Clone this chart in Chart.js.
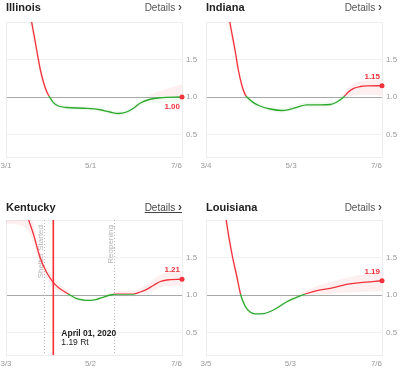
<!DOCTYPE html>
<html>
<head>
<meta charset="utf-8">
<script src="https://cdn.jsdelivr.net/npm/chart.js@4"></script>
<style>
  body { margin: 0; background: #fff; font-family: Arial, "Liberation Sans", sans-serif; }
  #wrap { position: relative; width: 400px; height: 374px; overflow: hidden; }
  .panel { position: absolute; width: 200px; height: 176px; }
  .panel canvas { position: absolute; left: 0; top: 0; }
  .title { position: absolute; left: 6px; top: 0; font-size: 11px; line-height: 14px; font-weight: bold; color: #222; }
  .details { position: absolute; right: 18px; top: 0; font-size: 10px; line-height: 14px; color: #555; }
  .details b { font-size: 12px; }
  .row2 .title, .row2 .details { top: 2px; }
  .hover { text-decoration: underline; color: #444; }
</style>
</head>
<body>
<div id="wrap">
  <div class="panel" style="left:0;top:0"><canvas id="c1" width="200" height="176"></canvas>
    <div class="title">Illinois</div><div class="details">Details <b>›</b></div></div>
  <div class="panel" style="left:200px;top:0"><canvas id="c2" width="200" height="176"></canvas>
    <div class="title">Indiana</div><div class="details">Details <b>›</b></div></div>
  <div class="panel row2" style="left:0;top:198px"><canvas id="c3" width="200" height="176"></canvas>
    <div class="title">Kentucky</div><div class="details hover">Details <b>›</b></div></div>
  <div class="panel row2" style="left:200px;top:198px"><canvas id="c4" width="200" height="176"></canvas>
    <div class="title">Louisiana</div><div class="details">Details <b>›</b></div></div>
</div>
<script>
// valores (días desde la primera fecha de cada panel)
const yTicks = [0.5, 1.0, 1.5];

const illinoisTickDays = [0, 61, 127];
const illinoisTickLabels = ['3/1', '5/1', '7/6'];
const illinoisDays = [0, 12, 18.6, 22.2, 24.6, 27, 29.4, 31.8, 34.2, 37.8, 43.9, 55.9, 68, 75, 81, 87, 92, 97, 104, 111, 127];
const illinoisRt = [4.0, 2.6, 1.99, 1.62, 1.38, 1.2, 1.07, 0.99, 0.925, 0.88, 0.86, 0.85, 0.83, 0.8, 0.78, 0.8, 0.85, 0.92, 0.97, 0.99, 1.0];
const illinoisLo = [3.6, 2.4, 1.85, 1.52, 1.3, 1.14, 1.02, 0.95, 0.89, 0.85, 0.83, 0.82, 0.8, 0.77, 0.75, 0.77, 0.82, 0.88, 0.92, 0.92, 0.9];
const illinoisHi = [4.4, 2.8, 2.1, 1.72, 1.46, 1.26, 1.12, 1.03, 0.96, 0.91, 0.89, 0.88, 0.86, 0.83, 0.81, 0.83, 0.88, 0.96, 1.03, 1.08, 1.17];

const indianaTickDays = [0, 60, 124];
const indianaTickLabels = ['3/4', '5/3', '7/6'];
const indianaDays = [0, 12, 16.9, 20.5, 22.8, 25.2, 27.5, 29.9, 33.4, 38.1, 45.2, 53.4, 59.3, 64, 71, 80.5, 87.5, 92.2, 97, 100.5, 104, 108.7, 113.4, 124];
const indianaRt = [4.0, 2.6, 1.99, 1.62, 1.36, 1.16, 1.035, 0.98, 0.925, 0.88, 0.84, 0.82, 0.837, 0.863, 0.894, 0.894, 0.9, 0.934, 1.0, 1.07, 1.115, 1.14, 1.148, 1.15];
const indianaLo = [3.6, 2.4, 1.85, 1.52, 1.28, 1.1, 0.99, 0.94, 0.89, 0.85, 0.81, 0.79, 0.81, 0.83, 0.86, 0.86, 0.87, 0.9, 0.95, 1.0, 1.02, 1.03, 1.03, 1.02];
const indianaHi = [4.4, 2.8, 2.1, 1.72, 1.44, 1.22, 1.08, 1.02, 0.96, 0.91, 0.87, 0.85, 0.87, 0.9, 0.93, 0.93, 0.93, 0.97, 1.05, 1.13, 1.18, 1.21, 1.22, 1.24];

const kentuckyTickDays = [0, 60, 125];
const kentuckyTickLabels = ['3/3', '5/2', '7/6'];
const kentuckyDays = [0, 10, 15.9, 19.5, 24.2, 28.9, 33.7, 37.2, 40.8, 45.5, 50.3, 55, 59.8, 64.5, 69.3, 74, 78.7, 90.6, 95.4, 100, 104.8, 109.6, 114.3, 125];
const kentuckyRt = [3.0, 2.35, 2.01, 1.81, 1.5, 1.3, 1.165, 1.1, 1.054, 1.0, 0.951, 0.933, 0.929, 0.942, 0.973, 1.0, 1.013, 1.013, 1.04, 1.076, 1.13, 1.18, 1.2, 1.21];
const kentuckyLo = [1.95, 1.93, 1.85, 1.68, 1.4, 1.22, 1.1, 1.05, 1.01, 0.96, 0.92, 0.91, 0.91, 0.92, 0.95, 0.97, 0.98, 0.98, 1.0, 1.02, 1.06, 1.1, 1.12, 1.12];
const kentuckyHi = [3.5, 2.75, 2.2, 1.95, 1.6, 1.38, 1.23, 1.15, 1.1, 1.04, 0.98, 0.955, 0.95, 0.965, 1.0, 1.03, 1.05, 1.06, 1.09, 1.14, 1.21, 1.27, 1.3, 1.32];
const kentuckyEventDays = [27, 77];
const kentuckyEventLabels = ['Shelter Started', 'Reopening'];
const kentuckyHoverDay = 33.6;
const kentuckyHoverText = ['April 01, 2020', '1.19 Rt'];

const louisianaTickDays = [0, 59, 123];
const louisianaTickLabels = ['3/5', '5/3', '7/6'];
const louisianaDays = [0, 10, 14.5, 18, 21.5, 24.3, 27.3, 30.8, 34.3, 40.1, 47.1, 56.5, 65.8, 70.5, 77.5, 89.2, 96.2, 107.8, 123];
const louisianaRt = [4.0, 2.6, 1.95, 1.56, 1.25, 1.0, 0.854, 0.774, 0.748, 0.752, 0.8, 0.91, 0.987, 1.02, 1.058, 1.097, 1.133, 1.164, 1.19];
const louisianaLo = [3.6, 2.4, 1.82, 1.47, 1.18, 0.95, 0.82, 0.75, 0.73, 0.73, 0.78, 0.88, 0.96, 0.98, 1.0, 1.02, 1.03, 1.04, 1.05];
const louisianaHi = [4.4, 2.8, 2.08, 1.65, 1.32, 1.05, 0.89, 0.8, 0.77, 0.77, 0.82, 0.94, 1.02, 1.06, 1.12, 1.18, 1.22, 1.27, 1.32];

const RED = '#f0323c';
const GREEN = '#2ca82c';

// color partido en Rt = 1 (rojo arriba, verde abajo)
function splitColor(chart, above, below) {
  const area = chart.chartArea;
  if (!area) return above;
  const y1 = chart.scales.y.getPixelForValue(1) - 1;
  let f = (y1 - area.top) / (area.bottom - area.top);
  f = Math.min(1, Math.max(0, f));
  const g = chart.ctx.createLinearGradient(0, area.top, 0, area.bottom);
  g.addColorStop(0, above);
  g.addColorStop(f, above);
  g.addColorStop(f, below);
  g.addColorStop(1, below);
  return g;
}

function toPoints(days, vals) {
  return days.map((d, i) => ({ x: d, y: vals[i] }));
}

function makeChart(id, days, rt, lo, hi, tickDays, tickLabels, extra) {
  const n = rt.length;
  const plugins = [{
    id: 'frame',
    beforeDatasetsDraw(chart) {
      const { ctx, chartArea: a } = chart;
      ctx.save();
      ctx.strokeStyle = '#eee';
      ctx.lineWidth = 1;
      ctx.strokeRect(Math.round(a.left) + 0.5, Math.round(a.top) + 0.5, a.right - a.left, a.bottom - a.top);
      ctx.restore();
    },
    afterDraw(chart) {
      const { ctx, chartArea: a } = chart;
      const xs = chart.scales.x, ys = chart.scales.y;
      ctx.save();
      // etiquetas del eje x
      ctx.font = '8px Arial, "Liberation Sans"';
      ctx.fillStyle = '#999';
      ctx.textBaseline = 'middle';
      tickDays.forEach((d, i) => {
        ctx.textAlign = i === tickDays.length - 1 ? 'right' : 'center';
        ctx.fillText(tickLabels[i], xs.getPixelForValue(d), a.bottom + 9);
      });
      // valor final
      const last = rt[n - 1];
      const px = xs.getPixelForValue(days[n - 1]);
      const py = ys.getPixelForValue(last);
      ctx.font = 'bold 8px Arial, "Liberation Sans"';
      ctx.fillStyle = RED;
      ctx.textAlign = 'right';
      ctx.fillText(last.toFixed(2), px - 2, last > 1 ? py - 9 : py + 10);
      ctx.restore();
    }
  }];
  if (extra) plugins.push(extra);

  return new Chart(document.getElementById(id), {
    type: 'line',
    data: {
      datasets: [
        {
          data: toPoints(days, rt),
          borderColor: ctx => splitColor(ctx.chart, RED, GREEN),
          borderWidth: 1.3,
          pointRadius: ctx => (ctx.dataIndex === n - 1 ? 2.5 : 0),
          pointBackgroundColor: RED,
          pointBorderWidth: 0,
          fill: false,
          cubicInterpolationMode: 'monotone',
          clip: { left: 0, top: 0, right: 4, bottom: 0 }
        },
        {
          data: toPoints(days, hi),
          borderWidth: 0,
          pointRadius: 0,
          fill: '+1',
          backgroundColor: ctx => splitColor(ctx.chart, 'rgba(240,60,60,0.08)', 'rgba(60,180,60,0.07)'),
          cubicInterpolationMode: 'monotone',
          clip: 0
        },
        {
          data: toPoints(days, lo),
          borderWidth: 0,
          pointRadius: 0,
          fill: false,
          cubicInterpolationMode: 'monotone',
          clip: 0
        }
      ]
    },
    options: {
      responsive: false,
      animation: false,
      events: [],
      layout: { padding: { left: 6, top: 22, right: 0, bottom: 0 } },
      plugins: { legend: { display: false }, tooltip: { enabled: false } },
      scales: {
        x: {
          type: 'linear',
          min: tickDays[0],
          max: tickDays[tickDays.length - 1],
          grid: { display: false },
          border: { color: '#eee' },
          ticks: { display: false },
          afterFit(s) { s.height = 19; }
        },
        y: {
          position: 'right',
          min: 0.2,
          max: 2.0,
          afterBuildTicks(s) { s.ticks = yTicks.map(v => ({ value: v })); },
          grid: {
            color: c => (c.tick && c.tick.value === 1 ? '#a8a8a8' : '#f0f0f0'),
            drawTicks: false
          },
          border: { color: '#eee' },
          ticks: {
            padding: 4,
            color: '#999',
            font: { size: 8, family: 'Arial, "Liberation Sans"' },
            callback: v => Number(v).toFixed(1)
          },
          afterFit(s) { s.width = 18; }
        }
      }
    },
    plugins
  });
}

// eventos de Kentucky: líneas punteadas, textos y la línea roja de selección
const kentuckyEvents = {
  id: 'kyEvents',
  beforeDatasetsDraw(chart) {
    const { ctx, chartArea: a } = chart;
    const xs = chart.scales.x;
    ctx.save();
    kentuckyEventDays.forEach((d, i) => {
      const x = Math.round(xs.getPixelForValue(d)) + 0.5;
      ctx.strokeStyle = '#bbb';
      ctx.lineWidth = 1;
      ctx.setLineDash([1, 2]);
      ctx.beginPath();
      ctx.moveTo(x, a.top);
      ctx.lineTo(x, a.bottom);
      ctx.stroke();
      ctx.setLineDash([]);
      ctx.save();
      ctx.translate(x - 1.5, a.top + 5);
      ctx.rotate(-Math.PI / 2);
      ctx.font = '8px Arial, "Liberation Sans"';
      ctx.fillStyle = '#b5b5b5';
      ctx.textAlign = 'right';
      ctx.textBaseline = 'alphabetic';
      ctx.fillText(kentuckyEventLabels[i], 0, 0);
      ctx.restore();
    });
    ctx.restore();
  },
  afterDatasetsDraw(chart) {
    const { ctx, chartArea: a } = chart;
    const x = chart.scales.x.getPixelForValue(kentuckyHoverDay);
    ctx.save();
    ctx.fillStyle = 'rgb(245,45,55)';
    ctx.fillRect(x - 0.8, a.top, 1.6, a.bottom - a.top);
    ctx.fillStyle = '#222';
    ctx.textAlign = 'left';
    ctx.textBaseline = 'middle';
    ctx.font = 'bold 8.5px Arial, "Liberation Sans"';
    ctx.fillText(kentuckyHoverText[0], x + 8, a.bottom - 21);
    ctx.font = '8.5px Arial, "Liberation Sans"';
    ctx.fillText(kentuckyHoverText[1], x + 8, a.bottom - 12);
    ctx.restore();
  }
};

makeChart('c1', illinoisDays, illinoisRt, illinoisLo, illinoisHi, illinoisTickDays, illinoisTickLabels);
makeChart('c2', indianaDays, indianaRt, indianaLo, indianaHi, indianaTickDays, indianaTickLabels);
makeChart('c3', kentuckyDays, kentuckyRt, kentuckyLo, kentuckyHi, kentuckyTickDays, kentuckyTickLabels, kentuckyEvents);
makeChart('c4', louisianaDays, louisianaRt, louisianaLo, louisianaHi, louisianaTickDays, louisianaTickLabels);
</script>
</body>
</html>
